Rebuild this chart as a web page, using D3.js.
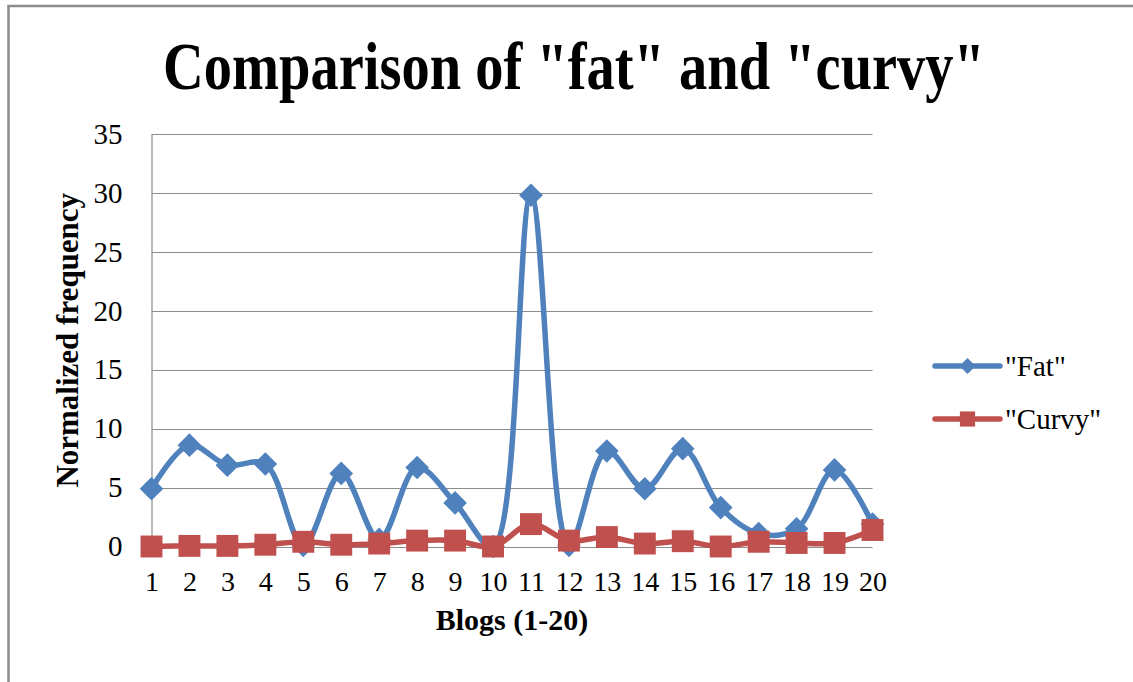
<!DOCTYPE html>
<html>
<head>
<meta charset="utf-8">
<script src="https://cdn.jsdelivr.net/npm/d3@7"></script>
<style>
  html, body { margin: 0; padding: 0; background: #fff; }
  svg { display: block; }
  text { font-family: "Liberation Serif", "Times New Roman", serif; fill: #000; }
</style>
</head>
<body>
<svg id="chart" width="1133" height="682"></svg>
<script>
// Blog index (x categories)
const blogs = d3.range(1, 21);
// Normalized frequency of the word "fat" per blog
const fatValues = [4.9, 8.6, 6.9, 7.0, 0.1, 6.2, 0.6, 6.7, 3.7, 0.0,
                   29.8, 0.1, 8.1, 4.9, 8.3, 3.3, 1.1, 1.5, 6.5, 1.9];
// Normalized frequency of the word "curvy" per blog
const curvyValues = [0.0, 0.05, 0.05, 0.15, 0.4, 0.15, 0.25, 0.5, 0.5, 0.0,
                     1.9, 0.5, 0.8, 0.25, 0.45, 0.0, 0.4, 0.3, 0.3, 1.4];
const yTicks = [0, 5, 10, 15, 20, 25, 30, 35];
const seriesNames = ['"Fat"', '"Curvy"'];
const seriesColors = ["#4f81bd", "#c0504d"];

const svg = d3.select("#chart");

// Outer frame (top and left edges)
svg.append("path")
  .attr("d", "M8.5,682 L8.5,6 L1133,6")
  .attr("fill", "none")
  .attr("stroke", "#8c8c8c")
  .attr("stroke-width", 2.5);

const plot = { left: 151.5, right: 872.5, top: 134, bottom: 546.5 };

const x = d3.scalePoint().domain(blogs).range([plot.left, plot.right]);
const y = d3.scaleLinear().domain([0, 35]).range([plot.bottom, plot.top]);

// Title, condensed horizontally to a fixed width
const title = svg.append("text")
  .attr("text-anchor", "middle")
  .attr("font-size", 67).attr("font-weight", "bold")
  .text('Comparison of "fat" and "curvy"');
const titleWidth = title.node().getComputedTextLength();
title.attr("transform", `translate(574,89) scale(${822 / titleWidth},1)`);

// Horizontal gridlines
svg.append("g").selectAll("line")
  .data(yTicks)
  .join("line")
  .attr("x1", plot.left).attr("x2", plot.right)
  .attr("y1", d => Math.round(y(d)) + 0.5).attr("y2", d => Math.round(y(d)) + 0.5)
  .attr("stroke", "#8c8c8c").attr("stroke-width", 1.2);

// Y axis
const yAxis = svg.append("g")
  .attr("transform", `translate(${plot.left},0)`)
  .call(d3.axisLeft(y).tickValues(yTicks).tickSize(0).tickPadding(29).tickFormat(d3.format("d")));
yAxis.select(".domain").attr("stroke", "#8c8c8c").attr("stroke-width", 1.2);
yAxis.selectAll(".tick text")
  .attr("font-family", "Liberation Serif, serif")
  .attr("font-size", 29).attr("fill", "#000");

// X axis
const xAxis = svg.append("g")
  .attr("transform", `translate(0,${plot.bottom})`)
  .call(d3.axisBottom(x).tickSize(0).tickPadding(25));
xAxis.select(".domain").remove();
xAxis.selectAll(".tick text")
  .attr("font-family", "Liberation Serif, serif")
  .attr("font-size", 28).attr("fill", "#000");

// Axis titles
svg.append("text")
  .attr("transform", `translate(78,${(plot.top + plot.bottom) / 2}) rotate(-90)`)
  .attr("text-anchor", "middle")
  .attr("font-size", 31).attr("font-weight", "bold")
  .text("Normalized frequency");

svg.append("text")
  .attr("x", 512).attr("y", 630)
  .attr("text-anchor", "middle")
  .attr("font-size", 30).attr("font-weight", "bold")
  .text("Blogs (1-20)");

const line = d3.line()
  .x((d, i) => x(blogs[i]))
  .y(d => y(d))
  .curve(d3.curveCatmullRom.alpha(0.5));

const diamond = d3.symbol().type(d3.symbolSquare).size(280);
const square = d3.symbol().type(d3.symbolSquare).size(480);

// "Fat" series
svg.append("path")
  .datum(fatValues)
  .attr("d", line)
  .attr("fill", "none")
  .attr("stroke", seriesColors[0]).attr("stroke-width", 5.5)
  .attr("stroke-linejoin", "round");
svg.append("g").selectAll("path")
  .data(fatValues)
  .join("path")
  .attr("d", diamond)
  .attr("transform", (d, i) => `translate(${x(blogs[i])},${y(d)}) rotate(45)`)
  .attr("fill", seriesColors[0]);

// "Curvy" series
svg.append("path")
  .datum(curvyValues)
  .attr("d", line)
  .attr("fill", "none")
  .attr("stroke", seriesColors[1]).attr("stroke-width", 5.5)
  .attr("stroke-linejoin", "round");
svg.append("g").selectAll("path")
  .data(curvyValues)
  .join("path")
  .attr("d", square)
  .attr("transform", (d, i) => `translate(${x(blogs[i])},${y(d)})`)
  .attr("fill", seriesColors[1]);

// Legend
const legend = svg.append("g");
const legendRows = [
  { name: seriesNames[0], color: seriesColors[0], sym: d3.symbol().type(d3.symbolSquare).size(130), rot: 45, y: 366 },
  { name: seriesNames[1], color: seriesColors[1], sym: d3.symbol().type(d3.symbolSquare).size(230), rot: 0, y: 419 }
];
legendRows.forEach(r => {
  legend.append("line")
    .attr("x1", 935).attr("x2", 1000)
    .attr("y1", r.y).attr("y2", r.y)
    .attr("stroke", r.color).attr("stroke-width", 5.5)
    .attr("stroke-linecap", "round");
  legend.append("path")
    .attr("d", r.sym())
    .attr("transform", `translate(967.5,${r.y}) rotate(${r.rot})`)
    .attr("fill", r.color);
  legend.append("text")
    .attr("x", 1005).attr("y", r.y + 10)
    .attr("font-size", 29)
    .text(r.name);
});
</script>
</body>
</html>
